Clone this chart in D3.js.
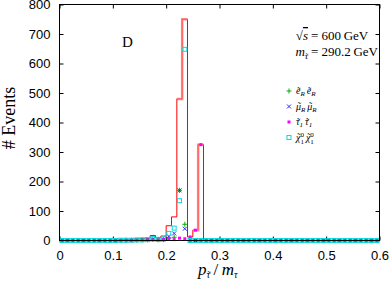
<!DOCTYPE html>
<html>
<head>
<meta charset="utf-8">
<script src="https://cdn.jsdelivr.net/npm/d3@7"></script>
<style>
body { margin: 0; background: #fff; }
svg { display: block; }
.tick text { font-family: "Liberation Sans", Arial, sans-serif; font-size: 13px; fill: #000; }
.serif { font-family: "Liberation Serif", "Times New Roman", serif; fill: #000; }
</style>
</head>
<body>
<svg width="390" height="284"></svg>
<script>
// bins of width 0.01 from 0 to 0.6
var binLow = d3.range(60).map(function(i) { return i / 100; });
var binWidth = 0.01;

// summed histogram (red line)
var total = [
    0, 0, 0, 0, 0, 0, 0, 0, 0, 0,
    1, 2, 3, 4, 5, 7, 8, 17, 10, 15,
    50, 80, 480, 750, 12, 35, 325, 0, 0, 0,
    0, 0, 0, 0, 0, 0, 0, 0, 0, 0,
    0, 0, 0, 0, 0, 0, 0, 0, 0, 0,
    0, 0, 0, 0, 0, 0, 0, 0, 0, 0
];
// light red steps
var pinkLow = [0.22, 0.23, 0.25, 0.26];
var pinkVal = [480, 750, 35, 325];

// point series
var eeVal = [
    0, 0, 0, 0, 0, 0, 0, 0, 0, 0,
    0, 0, 1, 1, 1, 2, 2, 4, 2, 3,
    8, 11, 170, 55, 0, 0, 0, 0, 0, 0,
    0, 0, 0, 0, 0, 0, 0, 0, 0, 0,
    0, 0, 0, 0, 0, 0, 0, 0, 0, 0,
    0, 0, 0, 0, 0, 0, 0, 0, 0, 0
];
var mumuVal = [
    0, 0, 0, 0, 0, 0, 0, 0, 0, 0,
    0, 0, 0, 1, 1, 2, 2, 4, 3, 4,
    14, 24, 170, 40, 0, 0, 0, 0, 0, 0,
    0, 0, 0, 0, 0, 0, 0, 0, 0, 0,
    0, 0, 0, 0, 0, 0, 0, 0, 0, 0,
    0, 0, 0, 0, 0, 0, 0, 0, 0, 0
];
var tautauVal = [
    0, 0, 0, 0, 0, 0, 0, 0, 0, 0,
    1, 1, 1, 1, 1, 1, 1, 2, 1, 2,
    4, 3, 8, 6, 12, 35, 325, 0, 0, 0,
    0, 0, 0, 0, 0, 0, 0, 0, 0, 0,
    0, 0, 0, 0, 0, 0, 0, 0, 0, 0,
    0, 0, 0, 0, 0, 0, 0, 0, 0, 0
];
var chichiVal = [
    0, 0, 0, 0, 0, 0, 0, 0, 0, 0,
    0, 1, 1, 1, 2, 2, 3, 7, 4, 6,
    24, 42, 135, 648, 0, 0, 0, 0, 0, 0,
    0, 0, 0, 0, 0, 0, 0, 0, 0, 0,
    0, 0, 0, 0, 0, 0, 0, 0, 0, 0,
    0, 0, 0, 0, 0, 0, 0, 0, 0, 0
];

var xTicks = [0, 0.1, 0.2, 0.3, 0.4, 0.5, 0.6];
var yTicks = [0, 100, 200, 300, 400, 500, 600, 700, 800];

var pLeft = 59.5, pRight = 379.5, pTop = 4.5, pBottom = 240.5;
var svg = d3.select('svg');

var x = d3.scaleLinear().domain([0, 0.6]).range([pLeft, pRight]);
var y = d3.scaleLinear().domain([0, 800]).range([pBottom, pTop]);

/************** axes **************/
svg.append('g')
    .attr('transform', 'translate(0,' + pBottom + ')')
    .call(d3.axisBottom(x).tickValues(xTicks).tickSize(-4).tickPadding(10)
        .tickFormat(function(d) { return d === 0 ? '0' : d.toFixed(1); }));
svg.append('g')
    .attr('transform', 'translate(0,' + pTop + ')')
    .call(d3.axisTop(x).tickValues(xTicks).tickSize(-4).tickFormat(''));
svg.append('g')
    .attr('transform', 'translate(' + pLeft + ',0)')
    .call(d3.axisLeft(y).tickValues(yTicks).tickSize(-4).tickPadding(9));
svg.append('g')
    .attr('transform', 'translate(' + pRight + ',0)')
    .call(d3.axisRight(y).tickValues(yTicks).tickSize(-4).tickFormat(''));
svg.selectAll('.domain').remove();
svg.selectAll('.tick line').attr('stroke', '#000');

/************** histograms **************/
var line = d3.line()
    .x(function(d) { return x(d[0]); })
    .y(function(d) { return y(d[1]); })
    .curve(d3.curveStepAfter);

var totalPts = binLow.map(function(b, i) { return [b, total[i]]; });
totalPts.push([0.6, total[total.length - 1]]);
svg.append('path')
    .attr('d', line(totalPts))
    .attr('fill', 'none')
    .attr('stroke', '#ff0000')
    .attr('stroke-width', 1);

// light red steps, broken where bins are missing
var runs = [];
pinkLow.forEach(function(b, i) {
    var last = runs[runs.length - 1];
    if (last && Math.abs(last[last.length - 1][0] + binWidth - b) < 1e-9) {
        last.push([b, pinkVal[i]]);
    } else {
        runs.push([[b, pinkVal[i]]]);
    }
});
runs.forEach(function(r) {
    var end = r[r.length - 1];
    var pts = r.concat([[end[0] + binWidth, end[1]]]);
    svg.append('path')
        .attr('d', line(pts))
        .attr('fill', 'none')
        .attr('stroke', '#ff7070')
        .attr('stroke-opacity', 0.8)
        .attr('stroke-width', 2.5);
});

/************** points **************/
var centers = binLow.map(function(b) { return b + binWidth / 2; });

function plus(g, cx, cy, col) {
    g.append('path').attr('d', 'M' + (cx - 2.5) + ',' + cy + 'h5M' + cx + ',' + (cy - 2.5) + 'v5')
        .attr('stroke', col).attr('stroke-width', 1);
}
function cross(g, cx, cy, col) {
    g.append('path').attr('d', 'M' + (cx - 2) + ',' + (cy - 2) + 'l4,4M' + (cx - 2) + ',' + (cy + 2) + 'l4,-4')
        .attr('stroke', col).attr('stroke-width', 1);
}
function fsquare(g, cx, cy, col) {
    g.append('rect').attr('x', cx - 1.5).attr('y', cy - 1.5).attr('width', 3).attr('height', 3)
        .attr('fill', col);
}
function osquare(g, cx, cy, col) {
    g.append('rect').attr('x', cx - 2).attr('y', cy - 2).attr('width', 4).attr('height', 4)
        .attr('fill', 'none').attr('stroke', col).attr('stroke-width', 1);
}

var series = [
    { vals: eeVal, col: '#00b000', mark: plus },
    { vals: mumuVal, col: '#2a2aff', mark: cross },
    { vals: tautauVal, col: '#ff00ff', mark: fsquare },
    { vals: chichiVal, col: '#00dede', mark: osquare }
];
var pts = svg.append('g');
series.forEach(function(s) {
    centers.forEach(function(c, i) {
        s.mark(pts, x(c), y(s.vals[i]), s.col);
    });
});

// frame
svg.append('rect')
    .attr('x', pLeft).attr('y', pTop)
    .attr('width', pRight - pLeft).attr('height', pBottom - pTop)
    .attr('fill', 'none').attr('stroke', '#000').attr('stroke-width', 1);

/************** text **************/
// put a tilde over the given characters of a text element
function addTildes(t, idx, size) {
    var node = t.node();
    idx.forEach(function(i) {
        var p = node.getStartPositionOfChar(i);
        var e = node.getExtentOfChar(i);
        svg.append('text').attr('class', 'serif')
            .attr('x', p.x + e.width / 2 + size * 0.08)
            .attr('y', p.y + size * 0.05)
            .attr('text-anchor', 'middle')
            .style('font-size', size + 'px')
            .text('\u02DC');
    });
}

svg.append('text').attr('class', 'serif')
    .attr('x', 122).attr('y', 47).style('font-size', '15px').text('D');

var eqX = 311;
var t1a = svg.append('text').attr('class', 'serif')
    .attr('x', eqX - 3).attr('y', 40).attr('text-anchor', 'end').style('font-size', '13px');
t1a.append('tspan').text('\u221A');
t1a.append('tspan').style('font-style', 'italic').style('text-decoration', 'overline').text('s');
svg.append('text').attr('class', 'serif')
    .attr('x', eqX).attr('y', 40).style('font-size', '13px')
    .text('= 600\u2009GeV');

var t2a = svg.append('text').attr('class', 'serif')
    .attr('x', eqX - 3).attr('y', 56).attr('text-anchor', 'end').style('font-size', '13px');
t2a.append('tspan').style('font-style', 'italic').text('m');
t2a.append('tspan').attr('dy', 3).style('font-size', '9px').style('font-style', 'italic').text('\u03C4');
addTildes(t2a, [1], 9);
svg.append('text').attr('class', 'serif')
    .attr('x', eqX).attr('y', 56).style('font-size', '13px')
    .text('= 290.2\u2009GeV');

// legend
var legendRows = [
    { col: '#00b000', mark: plus, a: 'e', s: 'R' },
    { col: '#2a2aff', mark: cross, a: '\u03BC', s: 'R' },
    { col: '#ff00ff', mark: fsquare, a: '\u03C4', s: '1' },
    { col: '#00dede', mark: osquare, a: '\u03C7', s: '1', sup: '0' }
];
legendRows.forEach(function(r, i) {
    var ly = 91 + i * 15.5;
    r.mark(svg, 289, ly, r.col);
    var t = svg.append('text').attr('class', 'serif')
        .attr('x', 296).attr('y', ly + 3).style('font-size', '10px');
    var marks = [];
    var n = 0;
    for (var k = 0; k < 2; k++) {
        marks.push(n);
        t.append('tspan').style('font-style', 'italic').text(r.a);
        n += 1;
        if (r.sup) {
            t.append('tspan').attr('dy', -4).style('font-size', '7px').text(r.sup);
            t.append('tspan').attr('dx', -3.5).attr('dy', 7).style('font-size', '7px').text(r.s);
            t.append('tspan').attr('dy', -3).text('\u2009');
            n += 3;
        } else {
            t.append('tspan').attr('dy', 2).style('font-size', '7px').style('font-style', 'italic').text(r.s);
            t.append('tspan').attr('dy', -2).text('\u2009');
            n += 2;
        }
    }
    addTildes(t, marks, 10);
});

// axis titles
svg.append('text').attr('class', 'serif')
    .attr('transform', 'translate(15,118)rotate(-90)')
    .attr('text-anchor', 'middle').style('font-size', '18px')
    .text('# Events');

var xl = svg.append('text').attr('class', 'serif')
    .attr('x', 198).attr('y', 275).style('font-size', '17px');
xl.append('tspan').style('font-style', 'italic').text('p');
xl.append('tspan').attr('dy', 3).style('font-size', '10px').style('font-style', 'italic').text('\u03C4');
xl.append('tspan').attr('dy', -3).text('\u2009/\u2009');
xl.append('tspan').style('font-style', 'italic').text('m');
xl.append('tspan').attr('dy', 3).style('font-size', '10px').style('font-style', 'italic').text('\u03C4');
addTildes(xl, [1, 5], 10);
</script>
</body>
</html>
